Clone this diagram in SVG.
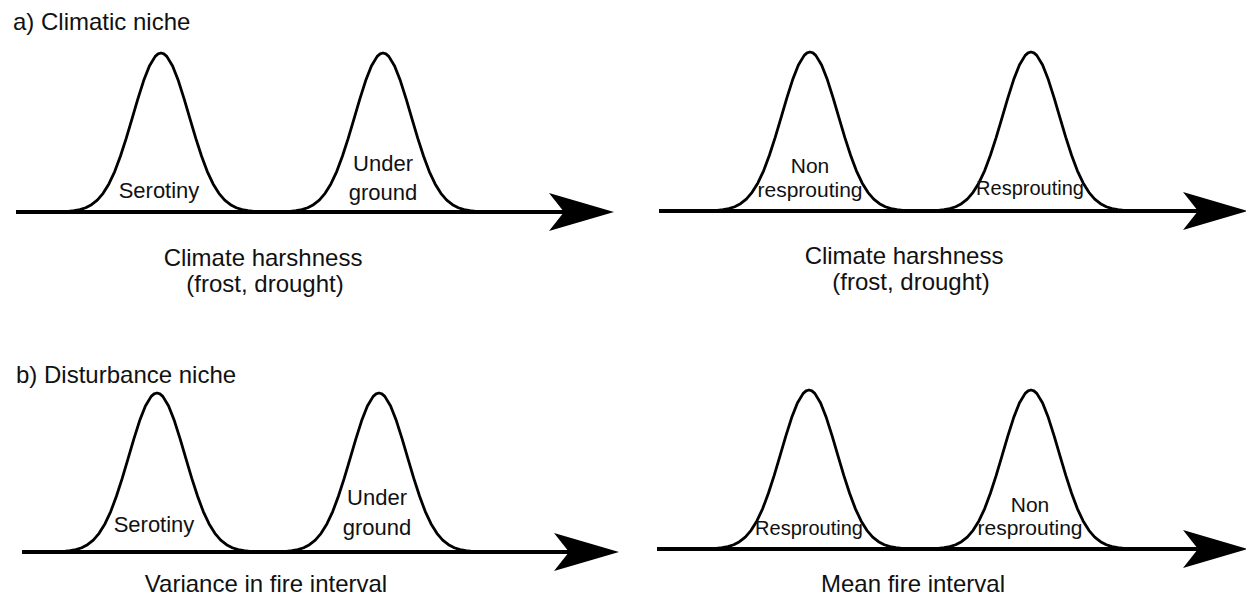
<svg xmlns="http://www.w3.org/2000/svg" xmlns:xlink="http://www.w3.org/1999/xlink" width="1246" height="597" viewBox="0 0 1246 597">
<style>
text{font-family:"Liberation Sans",Arial,sans-serif;fill:#111;}
.title{font-size:24px;}
.axlab{font-size:24px;text-anchor:middle;}
.lab{font-size:22px;text-anchor:middle;}
.lab21{font-size:21px;text-anchor:middle;}
.lab20{font-size:20px;text-anchor:middle;}
.bell{fill:none;stroke:#000;stroke-width:2.8;stroke-linejoin:round;}
.axis{stroke:#000;stroke-width:4;fill:none;marker-end:url(#arrow);}
</style>
<defs>
<marker id="arrow" markerUnits="userSpaceOnUse" viewBox="0 0 65 38" refX="15" refY="19" markerWidth="65" markerHeight="38" orient="auto" overflow="visible">
<path d="M0,0 L65,19 L0,38 L15,19 Z" fill="#000"/>
</marker>
<path id="bell" class="bell" d="M-106,159 L-98.5,158.67 L-92.7,158.34 L-86.9,157.71 L-81.1,156.6 L-75.3,154.73 L-69.5,151.7 L-63.7,147.07 L-57.9,140.3 L-52.1,130.92 L-46.3,118.58 L-40.6,103.29 L-34.8,85.41 L-29,65.89 L-23.2,46.11 L-17.4,27.86 L-11.6,13.04 L-5.8,3.37 L-2.9,0.85 L0,0 L2.9,0.85 L5.8,3.37 L11.6,13.04 L17.4,27.86 L23.2,46.11 L29,65.89 L34.8,85.41 L40.6,103.29 L46.3,118.58 L52.1,130.92 L57.9,140.3 L63.7,147.07 L69.5,151.7 L75.3,154.73 L81.1,156.6 L86.9,157.71 L92.7,158.34 L98.5,158.67 L106,159"/>
</defs>
<rect width="1246" height="597" fill="#fff"/>

<g id="connectors">
<line class="axis" x1="16" y1="212" x2="564" y2="212"/>
<line class="axis" x1="659" y1="211" x2="1198" y2="211"/>
<line class="axis" x1="22" y1="552" x2="569" y2="552"/>
<line class="axis" x1="657" y1="549" x2="1198" y2="549"/>
</g>

<g id="titles">
<text class="title" x="13" y="30">a) Climatic niche</text>
<text class="title" x="16" y="383">b) Disturbance niche</text>
</g>

<g id="a-left-serotiny">
<use xlink:href="#bell" x="161" y="53"/>
<text class="lab" x="159" y="198">Serotiny</text>
</g>
<g id="a-left-underground">
<use xlink:href="#bell" x="383" y="53"/>
<text class="lab" x="383" y="171">Under</text>
<text class="lab" x="383" y="200">ground</text>
</g>
<g id="a-left-axis-label">
<text class="axlab" x="263" y="266">Climate harshness</text>
<text class="axlab" x="265" y="292">(frost, drought)</text>
</g>

<g id="a-right-nonresprouting">
<use xlink:href="#bell" x="810" y="52"/>
<text class="lab21" x="810" y="173">Non</text>
<text class="lab21" x="810" y="197">resprouting</text>
</g>
<g id="a-right-resprouting">
<use xlink:href="#bell" x="1031" y="52"/>
<text class="lab20" x="1030" y="195">Resprouting</text>
</g>
<g id="a-right-axis-label">
<text class="axlab" x="904" y="264">Climate harshness</text>
<text class="axlab" x="911" y="290">(frost, drought)</text>
</g>

<g id="b-left-serotiny">
<use xlink:href="#bell" x="157" y="393"/>
<text class="lab" x="154" y="532">Serotiny</text>
</g>
<g id="b-left-underground">
<use xlink:href="#bell" x="379" y="393"/>
<text class="lab" x="377" y="505">Under</text>
<text class="lab" x="377" y="535">ground</text>
</g>
<g id="b-left-axis-label">
<text class="axlab" x="266" y="592">Variance in fire interval</text>
</g>

<g id="b-right-resprouting">
<use xlink:href="#bell" x="809" y="390"/>
<text class="lab20" x="809" y="535">Resprouting</text>
</g>
<g id="b-right-nonresprouting">
<use xlink:href="#bell" x="1031" y="390"/>
<text class="lab21" x="1030" y="512">Non</text>
<text class="lab21" x="1030" y="535">resprouting</text>
</g>
<g id="b-right-axis-label">
<text class="axlab" x="913" y="592">Mean fire interval</text>
</g>
</svg>
